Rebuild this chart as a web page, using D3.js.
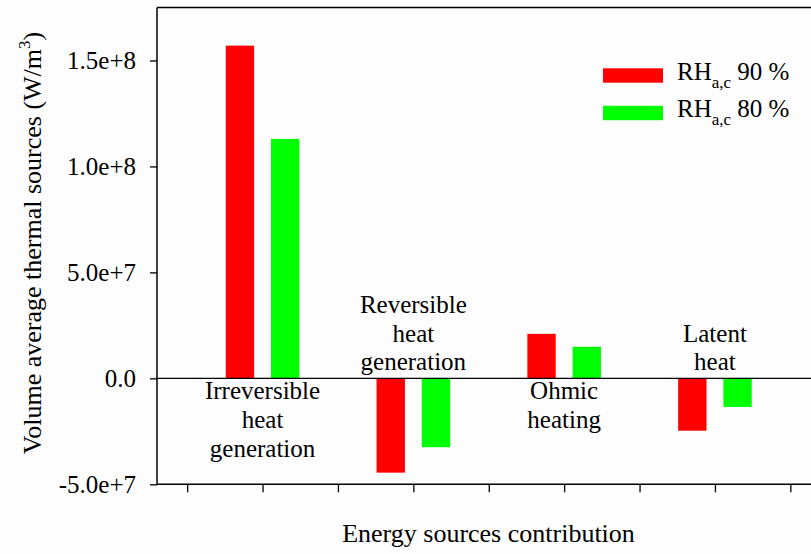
<!DOCTYPE html>
<html>
<head>
<meta charset="utf-8">
<script src="https://cdn.jsdelivr.net/npm/d3@7/dist/d3.min.js"></script>
<style>
  html, body { margin: 0; padding: 0; background: #fdfdfd; }
  svg { display: block; }
  svg text { font-family: "Liberation Serif", Tinos, "Times New Roman", Times, "DejaVu Serif", "Noto Serif", serif !important; fill: #000; }
</style>
</head>
<body>
<svg id="chart" width="811" height="554"></svg>
<script>
// Energy source categories (label lines) and their positions on the x axis
const categories = [
  ["Irreversible", "heat", "generation"],
  ["Reversible", "heat", "generation"],
  ["Ohmic", "heating"],
  ["Latent", "heat"]
];
const categoryPos = [1, 2, 3, 4];
// Label placement: above the zero line for negative groups, below for positive ones
const labelAbove = [false, true, false, true];

// Volume average thermal sources (W/m^3)
const rh90 = [1.57e8, -4.45e7, 2.10e7, -2.47e7];
const rh80 = [1.13e8, -3.25e7, 1.49e7, -1.35e7];

const seriesNames = ["90 %", "80 %"];
const seriesColors = ["#ff0000", "#00ff00"];

const yTicks = [-5e7, 0, 5e7, 1e8, 1.5e8];
const yTickLabels = ["-5.0e+7", "0.0", "5.0e+7", "1.0e+8", "1.5e+8"];
const xTicks = [0.5, 1, 1.5, 2, 2.5, 3, 3.5, 4, 4.5];

const serif = '"Liberation Serif", Tinos, "Times New Roman", Times, "DejaVu Serif", "Noto Serif", serif';

const svg = d3.select("#chart");
const plotLeft = 157, plotTop = 7.5, plotBottom = 484.3, plotRight = 820.5;

const x = d3.scaleLinear().domain([0.3, 4.7]).range([plotLeft, plotRight]);
const y = d3.scaleLinear().domain([-5e7, 1.75e8]).range([plotBottom, plotTop]);

const barW = x(0.188) - x(0);
const offsets = [-0.15, 0.15];
const series = [rh90, rh80];

// Bars
series.forEach((vals, s) => {
  svg.append("g").selectAll("rect")
    .data(vals)
    .join("rect")
    .attr("x", (d, i) => x(categoryPos[i] + offsets[s]) - barW / 2)
    .attr("width", barW)
    .attr("y", d => y(Math.max(0, d)))
    .attr("height", d => Math.abs(y(d) - y(0)))
    .attr("fill", seriesColors[s]);
});

// Frame top line
svg.append("line")
  .attr("x1", plotLeft).attr("x2", 811)
  .attr("y1", plotTop).attr("y2", plotTop)
  .attr("stroke", "#000").attr("stroke-width", 1.5);

// Zero reference line
svg.append("line")
  .attr("x1", plotLeft).attr("x2", 811)
  .attr("y1", y(0)).attr("y2", y(0))
  .attr("stroke", "#000").attr("stroke-width", 1.2);

// Y axis
const yAxis = d3.axisLeft(y)
  .tickValues(yTicks)
  .tickFormat((d, i) => yTickLabels[i])
  .tickSize(7)
  .tickPadding(14);
const gy = svg.append("g").attr("transform", `translate(${plotLeft},0)`).call(yAxis);
gy.attr("font-family", serif).attr("font-size", 25);
gy.select(".domain").attr("stroke", "#000").attr("stroke-width", 1.5)
  .attr("d", `M0,${plotTop}V${plotBottom}`);
gy.selectAll(".tick line").attr("stroke", "#000").attr("stroke-width", 1.3);
gy.selectAll(".tick text")
  .attr("font-family", serif)
  .attr("font-size", 25)
  .attr("fill", "#000")
  .attr("dy", "0.34em");

// X axis (tick marks only)
const xAxis = d3.axisBottom(x)
  .tickValues(xTicks)
  .tickFormat("")
  .tickSize(8);
const gx = svg.append("g").attr("transform", `translate(0,${plotBottom})`).call(xAxis);
gx.select(".domain").attr("stroke", "#000").attr("stroke-width", 1.5)
  .attr("d", `M${plotLeft},0H811`);
gx.selectAll(".tick line").attr("stroke", "#000").attr("stroke-width", 1.3);

// Category labels
const lineH = 28.8;
categories.forEach((lines, i) => {
  const cx = x(categoryPos[i]);
  const firstBaseline = labelAbove[i]
    ? y(0) - 8 - (lines.length - 1) * lineH
    : y(0) + 21;
  const t = svg.append("text")
    .attr("text-anchor", "middle")
    .attr("font-family", serif)
    .attr("font-size", 25);
  lines.forEach((ln, k) => {
    t.append("tspan")
      .attr("x", cx)
      .attr("y", firstBaseline + k * lineH)
      .text(ln);
  });
});

// Axis titles
svg.append("text")
  .attr("x", 488.5).attr("y", 542)
  .attr("text-anchor", "middle")
  .attr("font-family", serif)
  .attr("font-size", 26)
  .text("Energy sources contribution");

const yt = svg.append("text")
  .attr("transform", "translate(41,243) rotate(-90)")
  .attr("text-anchor", "middle")
  .attr("font-family", serif)
  .attr("font-size", 26);
yt.append("tspan").text("Volume average thermal sources (W/m");
yt.append("tspan").attr("dy", -11).attr("font-size", 17).text("3");
yt.append("tspan").attr("dy", 11).text(")");

// Legend
const legX = 603, legY = [75.5, 113];
seriesNames.forEach((name, s) => {
  svg.append("rect")
    .attr("x", legX).attr("y", legY[s] - 7.2)
    .attr("width", 60).attr("height", 14.4)
    .attr("fill", seriesColors[s]);
  const t = svg.append("text")
    .attr("x", 677).attr("y", legY[s] + 4)
    .attr("font-family", serif)
    .attr("font-size", 25);
  t.append("tspan").text("RH");
  t.append("tspan").attr("dy", 8).attr("font-size", 17).text("a,c");
  t.append("tspan").attr("dy", -8).text(" " + name);
});
</script>
</body>
</html>
